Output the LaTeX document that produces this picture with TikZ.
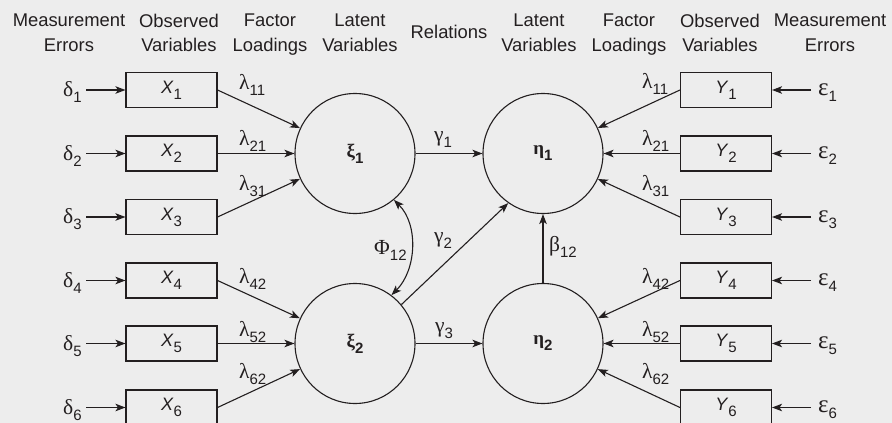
\documentclass[tikz,border=0pt]{standalone}
\usepackage{fontspec}
\setmainfont{Liberation Sans}
\newfontfamily\grk{Liberation Serif}
\usetikzlibrary{arrows.meta}
\definecolor{ink}{RGB}{35,31,32}
\definecolor{bgc}{RGB}{237,237,237}
\newcommand\gsym[1]{{\fontsize{21.5}{21.5}\selectfont\grk #1}}
\newcommand\gsyme[1]{{\fontsize{25}{25}\selectfont\grk #1}}
\newcommand\gsymb[1]{{\fontsize{19}{19}\selectfont\grk\bfseries #1}}
\newcommand\lowsub[1]{\raisebox{-6pt}{\fontsize{15}{15}\selectfont #1}}
\begin{document}
\begin{tikzpicture}[x=1pt,y=-1pt,
  every node/.style={font=\fontsize{18}{20}\selectfont, text=ink},
  obs/.style={draw=ink, line width=1.1pt, minimum width=91pt, minimum height=35pt, inner sep=0pt},
  lat/.style={draw=ink, circle, line width=1.1pt, minimum size=120pt, inner sep=0pt},
  arr/.style={-{Stealth[length=10pt,width=7.5pt,inset=2.5pt]}, line width=1.1pt, draw=ink},
  darr/.style={{Stealth[length=10pt,width=7.5pt,inset=2.5pt]}-{Stealth[length=10pt,width=7.5pt,inset=2.5pt]}, line width=1.1pt, draw=ink},
  hdr/.style={align=center, anchor=north, inner sep=0pt, font=\fontsize{18.4}{24.4}\selectfont},
  lab/.style={anchor=base west, inner sep=0pt}]
\fill[bgc] (0,0) rectangle (892,423);
\useasboundingbox (0,0) rectangle (892,423);

% headers
\node[hdr] (h1) at (69,14) {Measurement\\Errors};
\node[hdr] (h2) at (179,14) {Observed\\Variables};
\node[hdr] (h3) at (270,14) {Factor\\Loadings};
\node[hdr] (h4) at (360,14) {Latent\\Variables};
\node[hdr, anchor=base] (h5) at (449,38.3) {Relations};
\node[hdr] (h6) at (539,14) {Latent\\Variables};
\node[hdr] (h7) at (629,14) {Factor\\Loadings};
\node[hdr] (h8) at (720,14) {Observed\\Variables};
\node[hdr] (h9) at (830,14) {Measurement\\Errors};

% observed boxes
\node[obs] (X1) at (171.5,90)    {\textit{X}\lowsub{1}};
\node[obs] (X2) at (171.5,153.5) {\textit{X}\lowsub{2}};
\node[obs] (X3) at (171.5,217)   {\textit{X}\lowsub{3}};
\node[obs] (X4) at (171.5,280.5) {\textit{X}\lowsub{4}};
\node[obs] (X5) at (171.5,343.5) {\textit{X}\lowsub{5}};
\node[obs] (X6) at (171.5,407.5) {\textit{X}\lowsub{6}};
\node[obs] (Y1) at (726,90)    {\textit{Y}\lowsub{1}};
\node[obs] (Y2) at (726,153.5) {\textit{Y}\lowsub{2}};
\node[obs] (Y3) at (726,217)   {\textit{Y}\lowsub{3}};
\node[obs] (Y4) at (726,280.5) {\textit{Y}\lowsub{4}};
\node[obs] (Y5) at (726,343.5) {\textit{Y}\lowsub{5}};
\node[obs] (Y6) at (726,407.5) {\textit{Y}\lowsub{6}};

% latent circles
\node[lat] (xi1)  at (355,153.5) {\gsymb{ξ}\lowsub{\bfseries 1}};
\node[lat] (xi2)  at (355,343.5) {\gsymb{ξ}\lowsub{\bfseries 2}};
\node[lat] (eta1) at (543,153.5) {\gsymb{η}\lowsub{\bfseries 1}};
\node[lat] (eta2) at (543,343.5) {\gsymb{η}\lowsub{\bfseries 2}};

% error terms
\foreach \i/\y in {1/90,2/153.5,3/217,4/280.5,5/343.5,6/407.5}{
  \node[lab] (d\i) at (63,\y+6.5) {\gsym{δ}\lowsub{\i}};
  \coordinate (dc\i) at (86,\y);
  \draw[arr] (dc\i) -- (X\i.west);
  \node[lab] (e\i) at (818,\y+5) {\gsyme{ε}\lowsub{\i}};
  \coordinate (ec\i) at (811,\y);
  \draw[arr] (ec\i) -- (Y\i.east);
}

% loadings
\draw[arr] (X1.east) -- (xi1);
\draw[arr] (X2.east) -- (xi1);
\draw[arr] (X3.east) -- (xi1);
\draw[arr] (X4.east) -- (xi2);
\draw[arr] (X5.east) -- (xi2);
\draw[arr] (X6.east) -- (xi2);
\draw[arr] (Y1.west) -- (eta1);
\draw[arr] (Y2.west) -- (eta1);
\draw[arr] (Y3.west) -- (eta1);
\draw[arr] (Y4.west) -- (eta2);
\draw[arr] (Y5.west) -- (eta2);
\draw[arr] (Y6.west) -- (eta2);

\node[lab] (lx11) at (239,89)  {\gsym{λ}\lowsub{11}};
\node[lab] (lx21) at (239,145) {\gsym{λ}\lowsub{21}};
\node[lab] (lx31) at (239,190) {\gsym{λ}\lowsub{31}};
\node[lab] (lx42) at (239,283) {\gsym{λ}\lowsub{42}};
\node[lab] (lx52) at (239,336) {\gsym{λ}\lowsub{52}};
\node[lab] (lx62) at (239,378) {\gsym{λ}\lowsub{62}};
\node[lab] (ly11) at (642,88)  {\gsym{λ}\lowsub{11}};
\node[lab] (ly21) at (642,145) {\gsym{λ}\lowsub{21}};
\node[lab] (ly31) at (642,190) {\gsym{λ}\lowsub{31}};
\node[lab] (ly42) at (642,283) {\gsym{λ}\lowsub{42}};
\node[lab] (ly52) at (642,336) {\gsym{λ}\lowsub{52}};
\node[lab] (ly62) at (642,378) {\gsym{λ}\lowsub{62}};

% structural relations
\draw[arr] (xi1) -- (eta1);
\draw[arr] (xi2) -- (eta2);
\draw[arr] (xi2.40) -- (eta1.235);
\draw[arr] (eta2) -- (eta1);
\draw[darr] (xi1.-50) .. controls +(25,25) and +(25,-25) .. (xi2.53);

\node[lab] (g1) at (434,141) {\gsym{γ}\lowsub{1}};
\node[lab] (g2) at (434,242) {\gsym{γ}\lowsub{2}};
\node[lab] (g3) at (435,332) {\gsym{γ}\lowsub{3}};
\node[lab] (ph) at (374,254) {\gsym{Φ}\lowsub{12}};
\node[lab] (be) at (549,251) {\gsym{β}\lowsub{12}};
\end{tikzpicture}
\end{document}
